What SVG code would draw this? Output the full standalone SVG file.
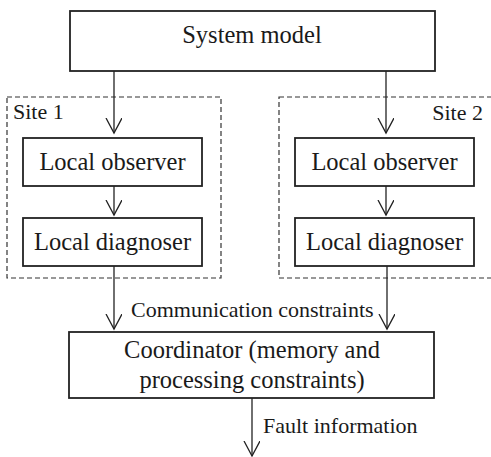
<svg xmlns="http://www.w3.org/2000/svg" width="491" height="457" viewBox="0 0 491 457">
<style>
.box{fill:#fff;stroke:#222;stroke-width:1.8}
.site{fill:none;stroke:#333;stroke-width:1.2;stroke-dasharray:5 3}
.t{font-family:"Liberation Serif",serif;font-size:24.5px;fill:#1a1a1a;text-anchor:middle}
.l{font-family:"Liberation Serif",serif;font-size:22px;fill:#1a1a1a}
.c{stroke:#222;stroke-width:1.3;fill:none}
</style>
<defs>
<marker id="arr" markerWidth="18" markerHeight="18" refX="15" refY="8" orient="auto" markerUnits="userSpaceOnUse">
<path d="M0,0 L15,8 L0,16" fill="none" stroke="#222" stroke-width="1.3"/>
</marker>
</defs>
<g id="site1"><rect class="site" x="7" y="97" width="214" height="181"/><text class="l" x="13" y="119">Site 1</text></g>
<g id="site2"><rect class="site" x="279" y="97" width="220" height="181"/><text class="l" x="483" y="120" text-anchor="end">Site 2</text></g>
<g id="system-model"><rect class="box" x="70" y="11" width="365" height="60"/><text class="t" x="252" y="43">System model</text></g>
<g id="observer1"><rect class="box" x="23" y="138" width="179" height="48"/><text class="t" x="112.5" y="170">Local observer</text></g>
<g id="diagnoser1"><rect class="box" x="23" y="218" width="179" height="48"/><text class="t" x="112.5" y="250">Local diagnoser</text></g>
<g id="observer2"><rect class="box" x="295" y="138" width="179" height="48"/><text class="t" x="384.5" y="170">Local observer</text></g>
<g id="diagnoser2"><rect class="box" x="295" y="218" width="179" height="48"/><text class="t" x="384.5" y="250">Local diagnoser</text></g>
<g id="coordinator"><rect class="box" x="69" y="332" width="365" height="66"/><text class="t" x="252" y="358">Coordinator (memory and</text><text class="t" x="252" y="388">processing constraints)</text></g>
<g id="connectors">
<line class="c" x1="114" y1="71" x2="114" y2="133" marker-end="url(#arr)"/>
<line class="c" x1="386" y1="71" x2="386" y2="133" marker-end="url(#arr)"/>
<line class="c" x1="114" y1="186" x2="114" y2="215" marker-end="url(#arr)"/>
<line class="c" x1="386" y1="186" x2="386" y2="215" marker-end="url(#arr)"/>
<line class="c" x1="114" y1="266" x2="114" y2="329" marker-end="url(#arr)"/>
<line class="c" x1="387" y1="266" x2="387" y2="329" marker-end="url(#arr)"/>
<line class="c" x1="252" y1="398" x2="252" y2="456" marker-end="url(#arr)"/>
<text class="l" x="131" y="317">Communication constraints</text>
<text class="l" x="263" y="433">Fault information</text>
</g>
</svg>
